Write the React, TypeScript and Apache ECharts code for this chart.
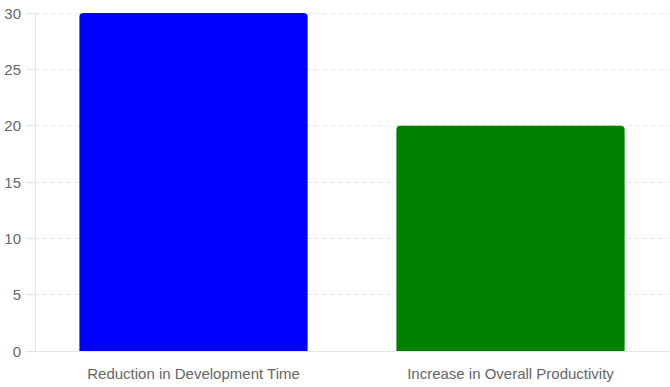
import React, { useEffect, useRef } from "react";
import * as echarts from "echarts";

const categories = ["Reduction in Development Time", "Increase in Overall Productivity"];
const values = [30, 20];
const colors = ["#0000ff", "#008000"];
const FONT = "Arial";

export default function App() {
  const ref = useRef<HTMLDivElement>(null);
  useEffect(() => {
    const chart = echarts.init(ref.current!, null, { renderer: "svg" });
    chart.setOption({
      animation: false,
      grid: { left: 35, right: 1, top: 13, bottom: 36, containLabel: false },
      xAxis: {
        type: "category",
        data: categories,
        axisLine: { show: true, lineStyle: { color: "#e5e5e5", width: 1 } },
        axisTick: { show: false },
        axisLabel: { color: "#666", fontSize: 15, fontFamily: FONT, margin: 15 },
        splitLine: { show: false },
      },
      yAxis: {
        type: "value",
        min: 0,
        max: 30,
        interval: 5,
        axisLine: { show: true, lineStyle: { color: "#e5e5e5", width: 1 } },
        axisTick: { show: true, length: 9, lineStyle: { color: "#e5e5e5" } },
        axisLabel: { color: "#666", fontSize: 15, fontFamily: FONT, margin: 14 },
        splitLine: { show: true, lineStyle: { color: "#e5e5e5", type: [4, 4], width: 1 } },
      },
      series: [
        {
          type: "bar",
          barWidth: "72%",
          data: values.map((v, i) => ({
            value: v,
            itemStyle: { color: colors[i], borderRadius: [4, 4, 0, 0] },
          })),
        },
      ],
    });
    return () => chart.dispose();
  }, []);
  return (
    <div
      ref={ref}
      style={{ position: "fixed", left: 0, top: 0, width: 670, height: 387, background: "#fff" }}
    />
  );
}
